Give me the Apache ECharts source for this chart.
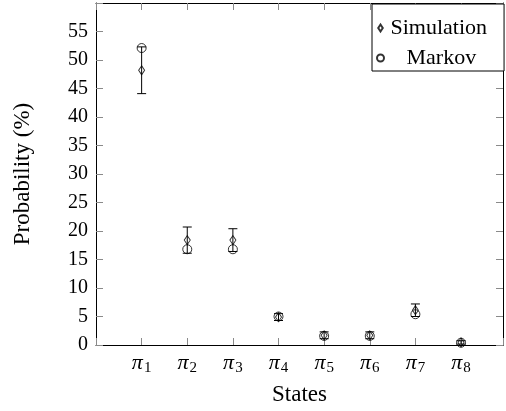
<!DOCTYPE html>
<html>
<head>
<meta charset="utf-8">
<script src="https://cdn.jsdelivr.net/npm/echarts@6/dist/echarts.min.js"></script>
<style>
  html, body { margin: 0; padding: 0; background: #fff; }
  #chart { width: 506px; height: 411px; }
</style>
</head>
<body>
<div id="chart"></div>
<script>
// state subscripts (pi_1 .. pi_8), x position = index
const stateIdx = ['1', '2', '3', '4', '5', '6', '7', '8'];
// simulation means and error (+/-) in %
const simValues = [48.2, 18.4, 18.4, 4.9, 1.7, 1.7, 6.1, 0.45];
const simErr = [4.1, 2.3, 2.0, 0.6, 0.6, 0.6, 1.1, 0.3];
// markov model values in %
const markovValues = [52.1, 16.8, 16.8, 5.0, 1.6, 1.6, 5.4, 0.4];
const yTicks = { min: 0, max: 60, step: 5 };

const FONT = 'Liberation Serif';
const tickColor = '#8a8a8a';

const chart = echarts.init(document.getElementById('chart'));

const simData = simValues.map((v, i) => [i + 1, v]);
const markovData = markovValues.map((v, i) => [i + 1, v]);
const errData = simValues.map((v, i) => [i + 1, v - simErr[i], v + simErr[i]]);

const xBase = {
  type: 'value',
  min: 0,
  max: 8.92,
  interval: 1,
  splitLine: { show: false },
  axisLine: { show: true, onZero: false, lineStyle: { color: '#000', width: 1 } },
  axisTick: { show: true, inside: true, length: 7, lineStyle: { color: tickColor } },
};
const yBase = {
  type: 'value',
  min: yTicks.min,
  max: yTicks.max,
  interval: yTicks.step,
  splitLine: { show: false },
  axisLine: { show: true, onZero: false, lineStyle: { color: '#000', width: 1 } },
  axisTick: { show: true, inside: true, length: 7, lineStyle: { color: tickColor } },
};

chart.setOption({
  animation: false,
  textStyle: { fontFamily: FONT, color: '#000' },
  grid: { left: 96, right: 1, top: 3, bottom: 64 },
  legend: {
    orient: 'vertical',
    left: 372,
    top: 4,
    padding: [13, 17, 2, 4],
    itemGap: 8,
    itemWidth: 10,
    itemHeight: 7,
    symbolKeepAspect: true,
    borderColor: '#000',
    borderWidth: 1,
    backgroundColor: '#fff',
    textStyle: { fontFamily: FONT, fontSize: 22, color: '#000', lineHeight: 20,
      rich: { m: { fontFamily: FONT, fontSize: 22, lineHeight: 20, padding: [0, 0, 0, 16] } } },
    formatter: name => (name === 'Markov' ? '{m|Markov}' : name),
    data: [
      { name: 'Simulation', icon: 'path://M0,-4L2.6,0L0,4L-2.6,0Z' },
      { name: 'Markov', icon: 'circle' },
    ],
  },
  xAxis: [
    Object.assign({}, xBase, {
      position: 'bottom',
      name: 'States',
      nameLocation: 'middle',
      nameGap: 38,
      nameTextStyle: { fontFamily: FONT, fontSize: 23, color: '#000' },
      axisLabel: {
        margin: 6,
        formatter: v => {
          const s = stateIdx[v - 1];
          return s ? '{p|π}{s|' + s + '}' : '';
        },
        rich: {
          p: { fontFamily: FONT, fontStyle: 'italic', fontSize: 22, color: '#000' },
          s: { fontFamily: FONT, fontSize: 15, color: '#000', padding: [10, 0, 0, 1] },
        },
      },
    }),
    Object.assign({}, xBase, { position: 'top', axisLabel: { show: false } }),
  ],
  yAxis: [
    Object.assign({}, yBase, {
      position: 'left',
      name: 'Probability (%)',
      nameLocation: 'middle',
      nameGap: 62,
      nameTextStyle: { fontFamily: FONT, fontSize: 23, color: '#000' },
      axisLabel: {
        margin: 8,
        fontFamily: FONT,
        fontSize: 20,
        color: '#000',
        formatter: v => (v >= yTicks.max ? '' : String(v)),
      },
    }),
    Object.assign({}, yBase, { position: 'right', axisLabel: { show: false } }),
  ],
  series: [
    {
      name: 'err',
      type: 'custom',
      data: errData,
      z: 2,
      renderItem: (params, api) => {
        const x = api.value(0);
        const lo = api.coord([x, api.value(1)]);
        const hi = api.coord([x, api.value(2)]);
        const w = 4.5;
        const style = { stroke: '#000', lineWidth: 1 };
        return {
          type: 'group',
          children: [
            { type: 'line', shape: { x1: lo[0], y1: lo[1], x2: hi[0], y2: hi[1] }, style },
            { type: 'line', shape: { x1: lo[0] - w, y1: lo[1], x2: lo[0] + w, y2: lo[1] }, style },
            { type: 'line', shape: { x1: hi[0] - w, y1: hi[1], x2: hi[0] + w, y2: hi[1] }, style },
          ],
        };
      },
    },
    {
      name: 'Simulation',
      type: 'scatter',
      data: simData,
      symbol: 'diamond',
      symbolSize: [6, 9],
      z: 3,
      itemStyle: { color: 'rgba(255,255,255,0)', borderColor: '#000', borderWidth: 1 },
    },
    {
      name: 'Markov',
      type: 'scatter',
      data: markovData,
      symbol: 'circle',
      symbolSize: 9,
      z: 3,
      itemStyle: { color: 'rgba(255,255,255,0)', borderColor: '#000', borderWidth: 1 },
    },
  ],
});
</script>
</body>
</html>
